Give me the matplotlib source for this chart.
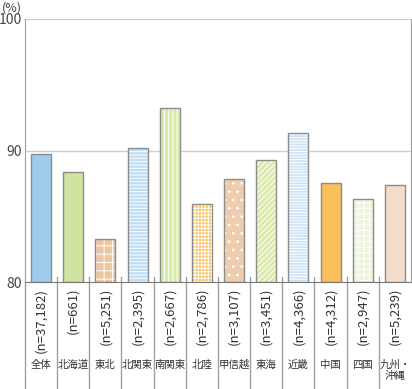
import matplotlib
matplotlib.use("Agg")
import matplotlib.pyplot as plt
import matplotlib.transforms as mtransforms
import numpy as np

plt.rcParams['font.family'] = ['Noto Sans CJK JP', 'DejaVu Sans']
plt.rcParams['hatch.linewidth'] = 0.7

# --- data ---
regions = ["全体", "北海道", "東北", "北関東", "南関東", "北陸",
           "甲信越", "東海", "近畿", "中国", "四国", "九州・\n沖縄"]
n_labels = ["37,182", "661", "5,251", "2,395", "2,667", "2,786",
            "3,107", "3,451", "4,366", "4,312", "2,947", "5,239"]
values = [89.75, 88.35, 83.25, 90.2, 93.2, 85.9,
          87.85, 89.25, 91.3, 87.55, 86.3, 87.35]

colors = ["#9FCBEC", "#D0E4A0", "#EDC7A2", "#BFDDF6", "#D6EBA8", "#F9C261",
          "#EECDAE", "#D8EBAA", "#CFE3F7", "#F9C05C", "#ECF4DC", "#F5DEC9"]
hatches = [None, None, "++", "-----", "||||", "+++++",
           "..", "//////", "------", None, "+++", None]

fig = plt.figure(figsize=(4.12, 3.89), dpi=100)
ax = fig.add_axes([25 / 412, (389 - 282) / 389, 386 / 412, 263 / 389])

x = np.arange(len(regions))
width = 0.62

# fill with white hatching, then draw outline on top
ax.bar(x, np.array(values) - 80, width, bottom=80, color=colors,
       edgecolor="white", linewidth=0, zorder=2)
for xi, v, h in zip(x, values, hatches):
    if h:
        ax.bar(xi, v - 80, width, bottom=80, color="none",
               edgecolor="white", linewidth=0, hatch=h, zorder=3)
ax.bar(x, np.array(values) - 80, width, bottom=80, color="none",
       edgecolor="#8C8C8C", linewidth=1.0, zorder=4)

ax.set_xlim(-0.5, len(regions) - 0.5)
ax.set_ylim(80, 100)
ax.set_yticks([80, 90, 100])
ax.tick_params(axis="y", length=0, labelsize=10, labelcolor="#444444", pad=2)
ax.set_xticks([])

for yv in [90, 100]:
    ax.axhline(yv, color="#CFCFCF", linewidth=1.0, zorder=1)

ax.spines["top"].set_visible(False)
ax.spines["left"].set_color("#A0A0A0")
ax.spines["right"].set_color("#A0A0A0")
ax.spines["bottom"].set_color("#777777")

trans = mtransforms.blended_transform_factory(ax.transData, ax.transAxes)

# separators below the axis
for b in np.arange(-0.5, len(regions) - 0.5, 1.0):
    top = 0.0 if b == -0.5 else 0.02
    ax.plot([b, b], [top, -0.41], transform=trans, color="#A0A0A0",
            linewidth=1.0, clip_on=False)

for xi, n, r in zip(x, n_labels, regions):
    ax.text(xi, -0.022, f"(n={n})", transform=trans, rotation=90,
            ha="center", va="top", fontsize=9.5, color="#333333")
    ax.text(xi, -0.295, r, transform=trans, ha="center", va="top",
            fontsize=7.5, color="#333333", linespacing=1.1)

fig.text(2 / 412, 1 - 8 / 389, "(%)", ha="left", va="center",
         fontsize=9, color="#444444")

fig.savefig("out.png", dpi=100)
